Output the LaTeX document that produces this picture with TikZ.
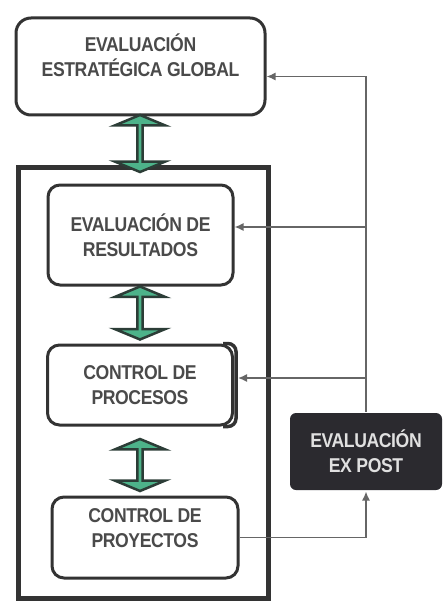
\documentclass[tikz,border=0pt]{standalone}
\usepackage{fontspec}
\setmainfont{Liberation Sans}[FakeStretch=0.88, LetterSpace=-2]
\usetikzlibrary{shapes.arrows,arrows.meta}

\definecolor{borde}{HTML}{333333}
\definecolor{texto}{HTML}{4A4A4A}
\definecolor{verde}{HTML}{4DB38A}
\definecolor{verdeosc}{HTML}{2C3D37}
\definecolor{gris}{HTML}{666666}
\definecolor{oscuro}{HTML}{2B2A2F}

\begin{document}
\begin{tikzpicture}[x=1pt,y=-1pt,
  caja/.style={draw=borde, line width=3pt, rounded corners=12pt, fill=white,
    align=center, text=texto, font=\fontsize{20}{25}\selectfont\bfseries, inner sep=0pt},
  flecha/.style={double arrow, rotate=90, draw=verdeosc, fill=verde, line width=2.5pt,
    minimum width=50pt, double arrow head extend=11pt, double arrow tip angle=135,
    inner sep=0pt},
  linea/.style={draw=gris, line width=1.5pt},
  punta/.style={-{Latex[length=9pt,width=8pt]}}]

\useasboundingbox (0,0) rectangle (443,604);

% -------------------------------------------------
% Cajas
% -------------------------------------------------
\node[caja, rounded corners=15pt, minimum width=249pt, minimum height=97pt, text depth=22pt] (glob) at (140.5,66.5)
  {EVALUACIÓN\\ESTRATÉGICA GLOBAL};

\draw[draw=borde, line width=5pt] (18,167) rectangle (268,598); % marco

\node[caja, minimum width=185pt, minimum height=100pt] (res) at (140.5,235)
  {EVALUACIÓN DE\\RESULTADOS};
\node[caja, minimum width=185pt, minimum height=80pt] (proc) at (140,385)
  {CONTROL DE\\PROCESOS};
\node[caja, minimum width=186pt, minimum height=81pt, text depth=18pt] (proy) at (145,537.5)
  {CONTROL DE\\PROYECTOS};

\node[caja, draw=none, fill=oscuro, rounded corners=6pt, text=white!88!black,
  minimum width=152pt, minimum height=77pt] (post) at (366,451.5)
  {EVALUACIÓN\\EX POST};

% corchete de procesos
\draw[draw=borde, line width=3.5pt, rounded corners=8pt]
  ([xshift=-11pt]proc.north east) -- ([xshift=2pt]proc.north east)
  -- ([xshift=2pt]proc.south east) -- ([xshift=-11pt]proc.south east);

% -------------------------------------------------
% Flechas dobles
% -------------------------------------------------
\node[flecha, minimum height=57pt] (f1) at (140,143.5) {};
\node[flecha, minimum height=53pt] (f2) at (140,313) {};
\node[flecha, minimum height=52pt] (f3) at (140,465) {};

% -------------------------------------------------
% Retroalimentacion
% -------------------------------------------------
\draw[linea, punta] (proy.east) -| (post.south);
\draw[linea, punta] (post.north) |- ([yshift=-10pt]glob.east);
\draw[linea, punta] (post.north |- res.east) ++(0,-8) -- ([yshift=8pt]res.east);
\draw[linea, punta] (post.north |- proc.east) ++(0,-7) -- ([xshift=4pt,yshift=7pt]proc.east);

\end{tikzpicture}
\end{document}
